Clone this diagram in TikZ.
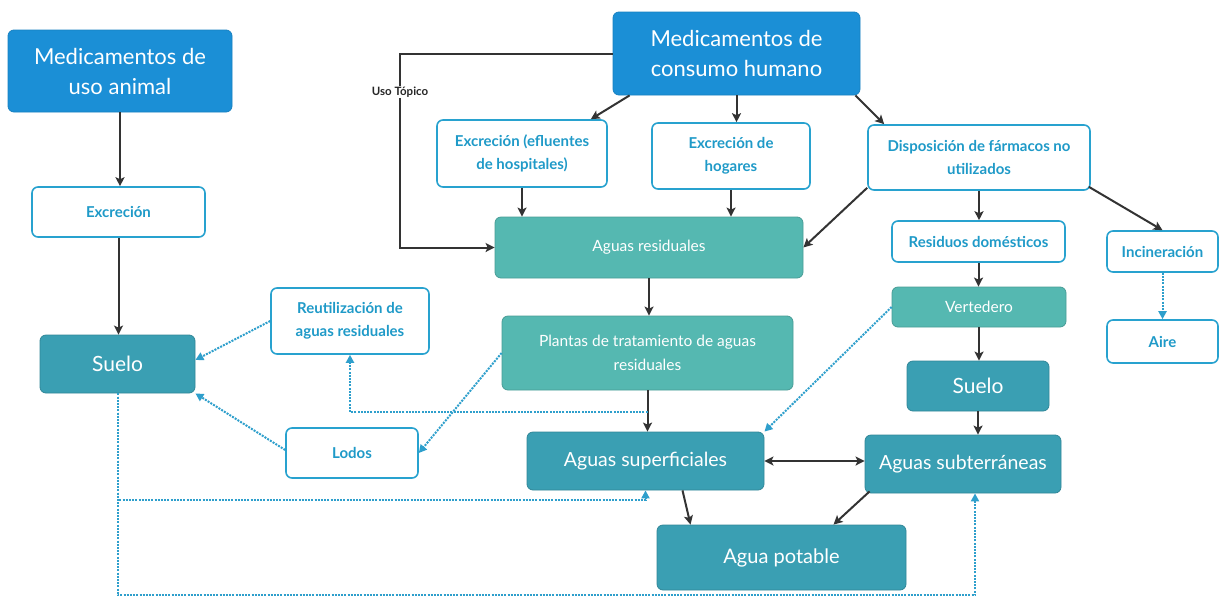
\documentclass[tikz,border=0pt]{standalone}
\usepackage{fontspec}
\setmainfont{Lato}
\usetikzlibrary{arrows.meta,calc}
\definecolor{hblue}{HTML}{1B8FD6}
\definecolor{dteal}{HTML}{3A9FB3}
\definecolor{lteal}{HTML}{55B8B1}
\definecolor{bord}{HTML}{28A2CF}
\definecolor{btext}{HTML}{1F9AC8}
\definecolor{dkline}{HTML}{333333}
\definecolor{dotblue}{HTML}{2E9FCC}
\begin{document}
\begin{tikzpicture}[x=1pt,y=-1pt,
  box/.style={rectangle,rounded corners=6pt,inner sep=2pt,align=center},
  hdr/.style={box,fill=hblue,draw=hblue!90!black,line width=0.8pt,text=white,font=\fontsize{22}{30}\selectfont},
  wbox/.style={box,fill=white,draw=bord,line width=1.6pt,text=btext,font=\bfseries\fontsize{15}{23}\selectfont},
  dbox/.style={box,fill=dteal,draw=dteal!85!black,line width=0.8pt,text=white,font=\fontsize{19.5}{26}\selectfont},
  lbox/.style={box,fill=lteal,draw=lteal!85!black,line width=0.8pt,text=white,font=\fontsize{15.5}{24}\selectfont},
  arr/.style={draw=dkline,line width=2pt,-{Stealth[length=9pt,width=9pt,inset=2pt]}},
  dot/.style={draw=dotblue,line width=2pt,dash pattern=on 2pt off 1.2pt,-{Triangle[length=8pt,width=8pt]}},
  lbl/.style={fill=white,inner sep=1pt,text=black!85,font=\bfseries\fontsize{11.5}{13}\selectfont}
]
\useasboundingbox (0,0) rectangle (1220,600);
\fill[white] (0,0) rectangle (1220,600);

% nodes
\node[hdr,minimum width=224,minimum height=82] (animal) at (120,71) {Medicamentos de\\uso animal};
\node[hdr,minimum width=247,minimum height=83] (humano) at (736.5,53.5) {Medicamentos de\\consumo humano};
\node[wbox,minimum width=173,minimum height=50] (excA) at (118.5,212) {Excreción};
\node[dbox,minimum width=155,minimum height=58,font=\fontsize{21}{26}\selectfont] (sueloL) at (117.5,364) {Suelo};
\node[wbox,minimum width=170,minimum height=67] (efl) at (522,153.5) {Excreción (efluentes\\de hospitales)};
\node[wbox,minimum width=158,minimum height=66] (hog) at (731,156) {Excreción de\\hogares};
\node[wbox,minimum width=222,minimum height=65] (disp) at (979,157.5) {Disposición de fármacos no\\utilizados};
\node[lbox,minimum width=308,minimum height=61] (resid) at (649,247.5) {Aguas residuales};
\node[wbox,minimum width=173,minimum height=41] (resdom) at (978.5,241.5) {Residuos domésticos};
\node[wbox,minimum width=111,minimum height=41] (incin) at (1162.5,251.5) {Incineración};
\node[wbox,minimum width=111,minimum height=43] (aire) at (1162.5,341.5) {Aire};
\node[lbox,minimum width=174,minimum height=40] (vert) at (979,307) {Vertedero};
\node[dbox,minimum width=142,minimum height=50,font=\fontsize{21}{26}\selectfont] (sueloR) at (978,386) {Suelo};
\node[wbox,minimum width=158,minimum height=66] (reut) at (350,321) {Reutilización de\\aguas residuales};
\node[lbox,minimum width=291,minimum height=74] (plantas) at (647.5,353) {Plantas de tratamiento de aguas\\residuales};
\node[wbox,minimum width=132,minimum height=50] (lodos) at (352,453) {Lodos};
\node[dbox,minimum width=237,minimum height=58] (asup) at (645.5,461) {Aguas superficiales};
\node[dbox,minimum width=196,minimum height=58] (asub) at (963,464) {Aguas subterráneas};
\node[dbox,minimum width=249,minimum height=65,font=\fontsize{20}{26}\selectfont] (apot) at (781.5,557.5) {Agua potable};

% solid connectors
\draw[arr] (animal.south) -- (animal.south |- excA.north);
\draw[arr] (excA.south) -- (excA.south |- sueloL.north);
\draw[arr] (humano.west) -- ++(-213,0) coordinate (utc) -- (utc |- resid.west) -- (resid.west);
\node[lbl] (utl) at (400,92) {Uso Tópico};
\draw[arr] ([xshift=17pt]humano.south west) -- ([xshift=-17pt]efl.north east);
\draw[arr] (humano.south) -- (humano.south |- hog.north);
\draw[arr] ([xshift=-5pt]humano.south east) -- ([xshift=17pt]disp.north west);
\draw[arr] (efl.south) -- (efl.south |- resid.north);
\draw[arr] (hog.south) -- (hog.south |- resid.north);
\draw[arr] ([yshift=3pt]disp.south west) -- (resid.east);
\draw[arr] (disp.south) -- (disp.south |- resdom.north);
\draw[arr] ([xshift=-2pt,yshift=4pt]disp.south east) -- (incin.north);
\draw[arr] (resdom.south) -- (resdom.south |- vert.north);
\draw[arr] (vert.south) -- (vert.south |- sueloR.north);
\draw[arr] (sueloR.south) -- (sueloR.south |- asub.north);
\draw[arr] (resid.south) -- (resid.south |- plantas.north);
\draw[arr] (plantas.south) -- (plantas.south |- asup.north);
\draw[arr,{Stealth[length=9pt,width=9pt,inset=2pt]}-{Stealth[length=9pt,width=9pt,inset=2pt]}] (asup.east) -- (asup.east -| asub.west);
\draw[arr] ([xshift=37pt]asup.south) -- ([xshift=-91pt]apot.north);
\draw[arr] ([xshift=5pt,yshift=2pt]asub.south west) -- ([xshift=52pt]apot.north);

% dotted connectors
\draw[dot] (incin.south) -- (aire.north);
\draw[dot] (vert.west) -- (asup.north east);
\draw[dot] (plantas.west) -- (lodos.east);
\draw[dot] (plantas.south |- 0,412) -- (reut.south |- 0,412) -- (reut.south);
\draw[dot] (reut.west) -- ([yshift=4pt]sueloL.east);
\draw[dot] ([yshift=3pt]lodos.west) -- (sueloL.south east);
\draw[dot] (sueloL.south) -- ++(0,107) -| (asup.south);
\draw[dot] (sueloL.south) -- ++(0,202) -| ([xshift=12pt]asub.south);
\end{tikzpicture}
\end{document}
